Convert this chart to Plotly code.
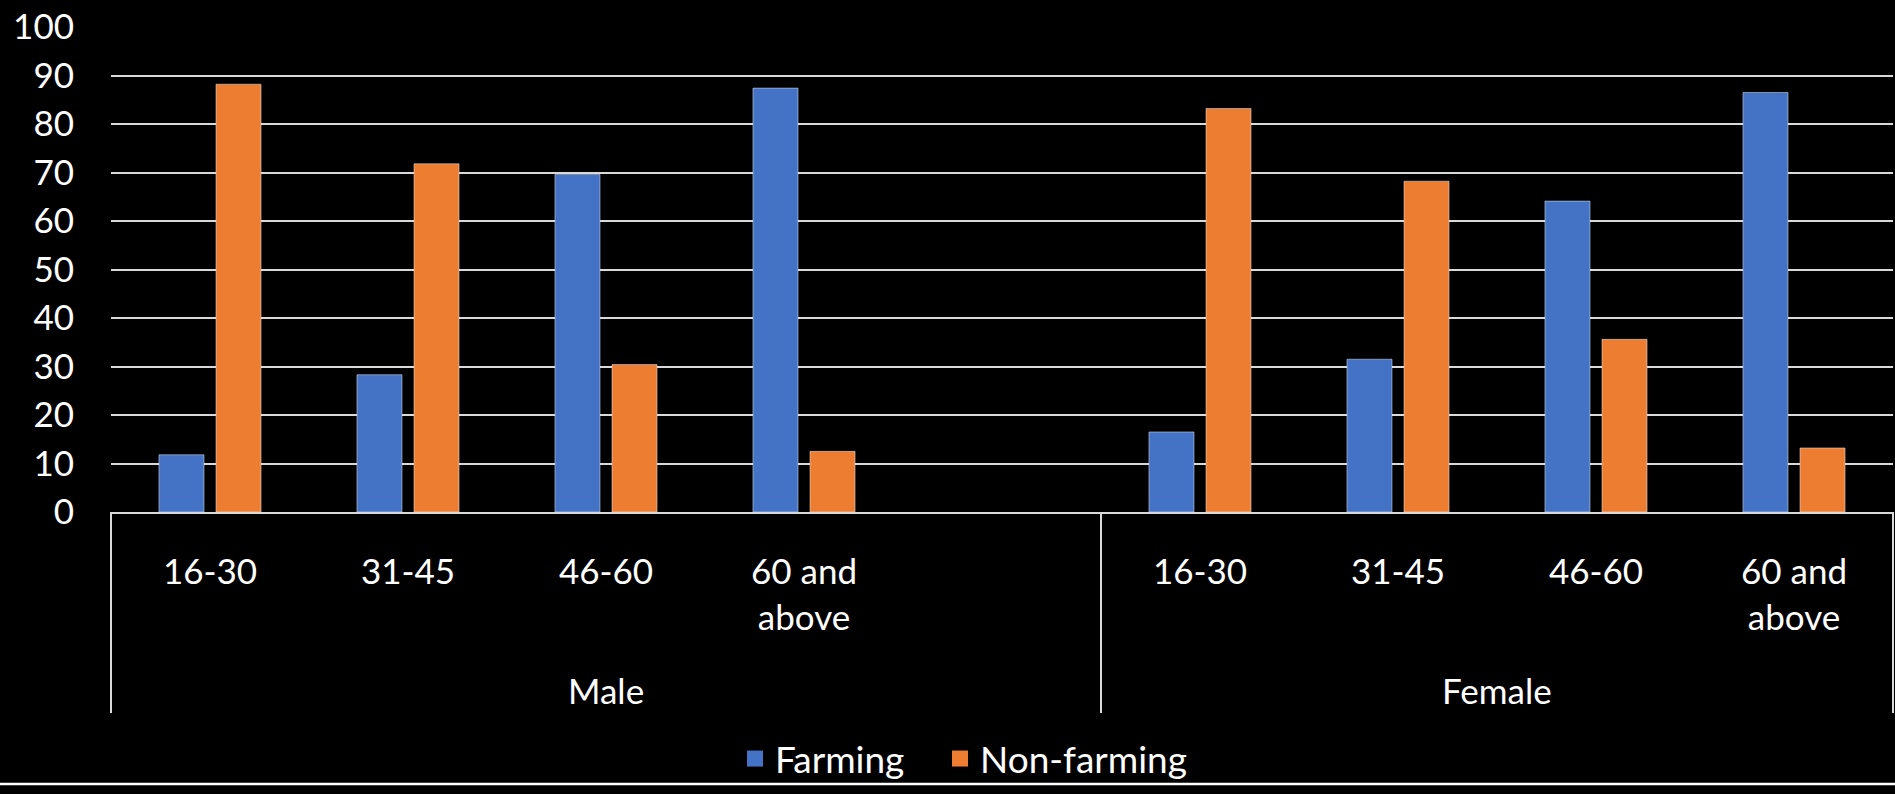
import plotly.graph_objects as go

# ---- data ----
groups = ["Male", "Female"]
age_groups = ["16-30", "31-45", "46-60", "60 and above"]
age_tick_labels = ["16-30", "31-45", "46-60", "60 and<br>above"]
series_names = ["Farming", "Non-farming"]
farming_male = [11.8, 28.3, 69.6, 87.4]
nonfarming_male = [88.2, 71.8, 30.4, 12.5]
farming_female = [16.5, 31.5, 64.1, 86.5]
nonfarming_female = [83.2, 68.2, 35.6, 13.2]
y_ticks = [0, 10, 20, 30, 40, 50, 60, 70, 80, 90, 100]

# Category slots (Male group has an empty trailing slot, as in the source)
x_cats, x_text, farm_vals, nonfarm_vals = [], [], [], []
for a, t, f, n in zip(age_groups, age_tick_labels, farming_male, nonfarming_male):
    x_cats.append("Male|" + a); x_text.append(t); farm_vals.append(f); nonfarm_vals.append(n)
x_cats.append("Male|blank"); x_text.append(""); farm_vals.append(None); nonfarm_vals.append(None)
for a, t, f, n in zip(age_groups, age_tick_labels, farming_female, nonfarming_female):
    x_cats.append("Female|" + a); x_text.append(t); farm_vals.append(f); nonfarm_vals.append(n)

BLUE = "#4472C4"
ORANGE = "#ED7D31"
GRID = "#d9d9d9"
FONT = "Lato"
FS = 35

fig = go.Figure()
fig.add_trace(go.Bar(name=series_names[0], x=x_cats, y=farm_vals, marker_color=BLUE,
                     showlegend=False, legendgroup="f"))
fig.add_trace(go.Bar(name=series_names[1], x=x_cats, y=nonfarm_vals, marker_color=ORANGE,
                     showlegend=False, legendgroup="n"))
# legend entries with larger square swatches
fig.add_trace(go.Scatter(name=series_names[0], x=[None], y=[None], mode="markers",
                         marker=dict(symbol="square", size=16, color=BLUE), legendgroup="f",
                         legend="legend"))
fig.add_trace(go.Scatter(name=series_names[1], x=[None], y=[None], mode="markers",
                         marker=dict(symbol="square", size=16, color=ORANGE), legendgroup="n",
                         legend="legend2"))

W, H = 1895, 794
L, R, T, B = 111, 2, 27, 282
pw = W - L - R
ph = H - T - B
n_slots = len(x_cats)

def py(pix):
    return (H - B - pix) / ph

def px(pix):
    return (pix - L) / pw

shapes = []
for xp in [0, 5 / n_slots, 1]:
    shapes.append(dict(type="line", xref="paper", yref="paper", x0=xp, x1=xp,
                       y0=0, y1=py(713), line=dict(color=GRID, width=2)))
shapes.append(dict(type="line", xref="paper", yref="paper",
                   x0=px(0), x1=px(W),
                   y0=py(784), y1=py(784), line=dict(color="white", width=2.5)))

annotations = [
    dict(text=groups[0], xref="paper", yref="paper", x=2.5 / n_slots, y=py(690),
         showarrow=False, xanchor="center", yanchor="middle",
         font=dict(family=FONT, size=FS, color="white")),
    dict(text=groups[1], xref="paper", yref="paper", x=7 / n_slots, y=py(690),
         showarrow=False, xanchor="center", yanchor="middle",
         font=dict(family=FONT, size=FS, color="white")),
]

leg_common = dict(orientation="h", xanchor="left", y=py(759), yanchor="middle",
                  font=dict(family=FONT, size=37, color="white"),
                  bgcolor="rgba(0,0,0,0)", itemsizing="trace", itemwidth=30)

fig.update_layout(
    width=W, height=H,
    margin=dict(l=L, r=R, t=T, b=B, pad=0),
    paper_bgcolor="black", plot_bgcolor="black",
    font=dict(family=FONT, size=FS, color="white"),
    barmode="group", bargap=0.424, bargroupgap=0.21,
    showlegend=True,
    legend=dict(x=px(735), **leg_common),
    legend2=dict(x=px(940), **leg_common),
    xaxis=dict(type="category", categoryorder="array", categoryarray=x_cats,
               tickmode="array", tickvals=x_cats, ticktext=x_text,
               showgrid=False, showline=True, linecolor=GRID, linewidth=2,
               ticks="", ticklabelstandoff=28, tickfont=dict(family=FONT, size=FS, color="white"),
               range=[-0.5, n_slots - 0.5]),
    yaxis=dict(range=[0, 100], tickmode="array", tickvals=y_ticks,
               showgrid=True, gridcolor=GRID, gridwidth=2, zeroline=False,
               showline=False, ticks="", ticklabelstandoff=36,
               tickfont=dict(family=FONT, size=FS, color="white")),
    shapes=shapes, annotations=annotations,
)

fig.write_html("out.html")
